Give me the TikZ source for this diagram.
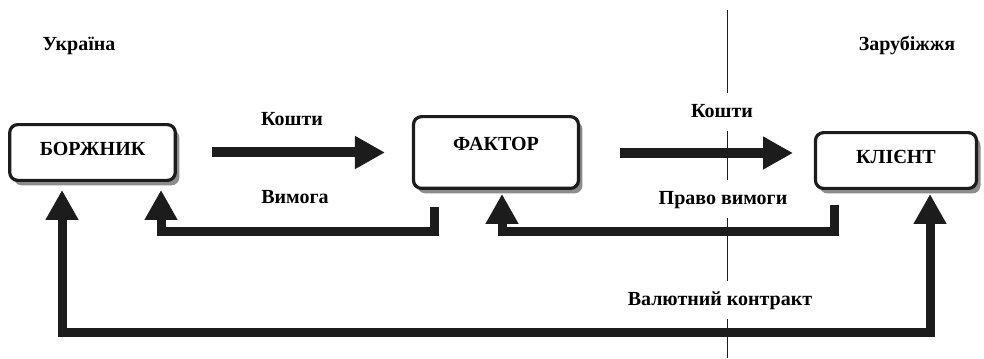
\documentclass[tikz,border=0pt]{standalone}
\usepackage{fontspec}
\setmainfont{Liberation Serif}
\usetikzlibrary{arrows.meta,positioning,calc,shadows}
\definecolor{pgray}{HTML}{8C8C8C}
\definecolor{dblack}{HTML}{1C1C1C}
\tikzset{
  % White rounded box with a solid gray offset shadow.
  blk/.style   = {rectangle, rounded corners=4pt, draw=dblack, fill=white, line width=1.6pt,
                  align=center, font=\bfseries, inner sep=0pt, text depth=4pt,
                  general shadow={fill=pgray, shadow xshift=2pt, shadow yshift=-2.5pt}},
  arr/.style   = {->, line width=5pt, dblack},
  conn/.style  = {->, line width=4.5pt, dblack},
  lbl/.style   = {font=\bfseries, fill=white, inner sep=5pt, text height=7pt, text depth=2pt},
  tag/.style   = {font=\bfseries, text height=7pt, text depth=2pt},
}

\begin{document}
\begin{tikzpicture}[x=1cm,y=1cm,>={Triangle[length=15pt,width=15.5pt]}]
\useasboundingbox (0,0) rectangle (17.294,6.292);

% ---- border between the two sides -----------------------------------
\coordinate (divtop) at (12.777,6.116);
\coordinate (divbot) at (12.777,0);
\draw[dblack, line width=0.5pt] (divtop) -- (divbot);

% ---- parties --------------------------------------------------------
\node[blk, minimum width=2.91cm, minimum height=0.98cm] (borzh) at (1.626,3.612) {БОРЖНИК};
\node[blk, minimum width=2.90cm, minimum height=1.26cm, text depth=9pt] (faktor) at (8.717,3.612) {ФАКТОР};
\node[blk, minimum width=2.83cm, minimum height=0.98cm] (klient) at (15.747,3.471) {КЛІЄНТ};

% ---- money flows ----------------------------------------------------
\coordinate (k1a) at (3.726,3.612);
\coordinate (k1b) at (6.766,3.612);
\coordinate (k2a) at (10.897,3.603);
\coordinate (k2b) at (13.937,3.603);
\draw[arr] (k1a) -- (k1b);
\draw[arr] (k2a) -- (k2b);

% ---- claims ---------------------------------------------------------
\coordinate (vymst) at (7.628,2.654);
\coordinate (pravst) at (14.658,2.689);
\draw[conn, shorten >=4pt] (vymst) -- ++(0,-0.422) -| ([xshift=1.204cm]borzh.south);
\draw[conn, shorten >=2pt] (pravst) -- ++(0,-0.457) -| ([xshift=0.106cm]faktor.south);
\draw[conn, <->, shorten <=4pt, shorten >=2pt]
      ([xshift=-0.536cm]borzh.south) -- ++(0,-2.637) -| ([xshift=0.598cm]klient.south);

% ---- labels ---------------------------------------------------------
\node[tag] (ukr) at (1.388,5.501) {Україна};
\node[tag] (zarub) at (15.941,5.501) {Зарубіжжя};
\node[lbl] (koshti1) at (5.132,4.183) {Кошти};
\node[lbl] (koshti2) at (12.689,4.323) {Кошти};
\node[lbl] (vymoga) at (5.185,2.812) {Вимога};
\node[lbl] (pravo) at (12.707,2.794) {Право вимоги};
\node[lbl] (valkon) at (12.654,1.019) {Валютний контракт};
\end{tikzpicture}
\end{document}
